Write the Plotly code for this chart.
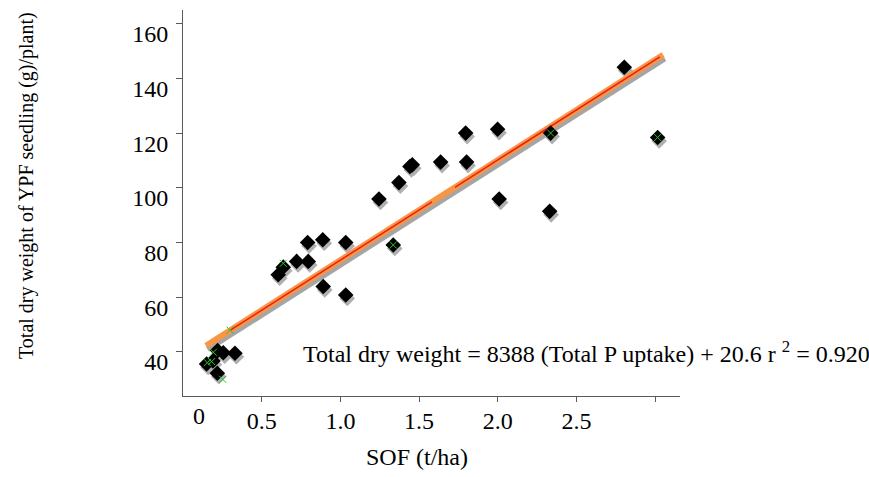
import plotly.graph_objects as go

# ---------------- data ----------------
sof = [0.150, 0.190, 0.220, 0.256, 0.330, 0.218, 0.605, 0.637, 0.722, 0.796,
       0.792, 0.888, 0.891, 1.034, 1.034, 1.245, 1.336, 1.372, 1.442, 1.457,
       1.637, 1.796, 1.802, 1.999, 2.009, 2.336, 2.330, 2.804, 3.016]
dry_weight = [35.6, 36.7, 40.5, 39.7, 39.5, 32.2, 68.2, 71.0, 73.1, 73.1,
              80.0, 81.0, 63.9, 80.0, 60.8, 95.9, 79.1, 101.9, 107.8, 108.4,
              109.4, 120.0, 109.4, 121.4, 95.9, 120.0, 91.4, 144.1, 118.4]

# small green crosses visible in the picture
green_x = [0.154, 0.182, 0.193, 0.252, 0.299, 0.637, 1.336, 2.336, 3.016]
green_y = [36.1, 36.5, 39.9, 30.0, 48.0, 72.4, 79.1, 120.0, 118.4]

# fitted line end points
fit_x = [0.146, 3.051]
fit_y = [42.3, 148.6]
# thin red centre line segments (None = gap)
red_x = [0.299, 1.582, None, 1.728, 3.030]
red_y = [47.9, 94.9, None, 100.2, 147.9]

x_tickvals = [0.5, 1.0, 1.5, 2.0, 2.5, 3.0]
x_ticktext = ["0.5", "1.0", "1.5", "2.0", "2.5", ""]
y_tickvals = [40, 60, 80, 100, 120, 140, 160]

x_title = "SOF (t/ha)"
y_title = "Total dry weight of YPF seedling (g)/plant)"
equation = "Total dry weight = 8388 (Total P uptake) + 20.6 r <sup>2</sup> = 0.920"

# ---------------- style ----------------
FONT = "Liberation Serif"
W, H = 869, 477
L, R, T, B = 183, 189, 10, 81
XR = [0.0, 3.158]
YR = [23.9, 165.0]
plot_w = W - L - R
plot_h = H - T - B
# shadow offset in pixels (right, down)
SDX, SDY = 1.5, 3.5
dx = SDX * (XR[1] - XR[0]) / plot_w
dy = SDY * (YR[1] - YR[0]) / plot_h
XR_sh = [XR[0] - dx, XR[1] - dx]
YR_sh = [YR[0] + dy, YR[1] + dy]

fig = go.Figure()

# shadows (base, hidden axes)
fig.add_trace(go.Scatter(x=fit_x, y=fit_y, mode="lines",
                         line=dict(color="rgb(165,165,165)", width=6),
                         xaxis="x", yaxis="y", hoverinfo="skip", showlegend=False))
fig.add_trace(go.Scatter(x=sof, y=dry_weight, mode="markers",
                         marker=dict(symbol="diamond", size=12, color="rgb(175,175,175)",
                                     line=dict(width=0)),
                         xaxis="x", yaxis="y", hoverinfo="skip", showlegend=False))

# main layer
fig.add_trace(go.Scatter(x=fit_x, y=fit_y, mode="lines",
                         line=dict(color="rgb(248,150,70)", width=6),
                         xaxis="x2", yaxis="y2", showlegend=False))
fig.add_trace(go.Scatter(x=red_x, y=red_y, mode="lines", connectgaps=False,
                         line=dict(color="rgb(235,30,20)", width=1.5),
                         xaxis="x2", yaxis="y2", showlegend=False))
fig.add_trace(go.Scatter(x=sof, y=dry_weight, mode="markers",
                         marker=dict(symbol="diamond", size=12, color="black",
                                     line=dict(width=0)),
                         xaxis="x2", yaxis="y2", showlegend=False))
fig.add_trace(go.Scatter(x=green_x, y=green_y, mode="markers",
                         marker=dict(symbol="x-thin", size=7,
                                     line=dict(color="rgb(40,200,40)", width=1)),
                         xaxis="x2", yaxis="y2", showlegend=False))

axis_col = "rgb(90,90,90)"
fig.update_layout(
    width=W, height=H,
    margin=dict(l=L, r=R, t=T, b=B, pad=0, autoexpand=False),
    paper_bgcolor="white", plot_bgcolor="white",
    font=dict(family=FONT, color="black", size=24),
    showlegend=False,
    xaxis=dict(range=XR_sh, visible=False, domain=[0, 1], automargin=False),
    yaxis=dict(range=YR_sh, visible=False, domain=[0, 1], automargin=False),
    xaxis2=dict(range=XR, overlaying="x", anchor="y2", side="bottom",
                automargin=False,
                showline=True, linecolor=axis_col, linewidth=1,
                showgrid=False, zeroline=False,
                tickmode="array", tickvals=x_tickvals, ticktext=x_ticktext,
                ticks="outside", ticklen=5, tickcolor=axis_col, tickwidth=1,
                tickfont=dict(family=FONT, size=24, color="black"),
                ticklabelstandoff=-2),
    yaxis2=dict(range=YR, overlaying="y", anchor="x2", side="left",
                automargin=False,
                showline=True, linecolor=axis_col, linewidth=1,
                showgrid=False, zeroline=False,
                tickmode="array", tickvals=y_tickvals,
                ticks="outside", ticklen=6, tickcolor=axis_col, tickwidth=1,
                tickfont=dict(family=FONT, size=24, color="black"),
                ticklabelshift=10, ticklabelstandoff=3),
    annotations=[
        dict(text="0", xref="paper", yref="paper",
             x=(199 - L) / plot_w, y=(H - B - 416) / plot_h,
             xanchor="center", yanchor="middle", showarrow=False,
             font=dict(family=FONT, size=24, color="black")),
        dict(text=x_title, xref="paper", yref="paper",
             x=(417 - L) / plot_w, y=(H - B - 457) / plot_h,
             xanchor="center", yanchor="middle", showarrow=False,
             font=dict(family=FONT, size=24, color="black")),
        dict(text=y_title, xref="paper", yref="paper", textangle=-90,
             x=(27 - L) / plot_w, y=(H - B - 186) / plot_h,
             xanchor="center", yanchor="middle", showarrow=False,
             font=dict(family=FONT, size=20, color="black")),
        dict(text=equation, xref="paper", yref="paper",
             x=(301 - L) / plot_w, y=(H - B - 352) / plot_h,
             xanchor="left", yanchor="middle", showarrow=False,
             font=dict(family=FONT, size=24, color="black")),
    ],
)

fig.write_html("out.html")
